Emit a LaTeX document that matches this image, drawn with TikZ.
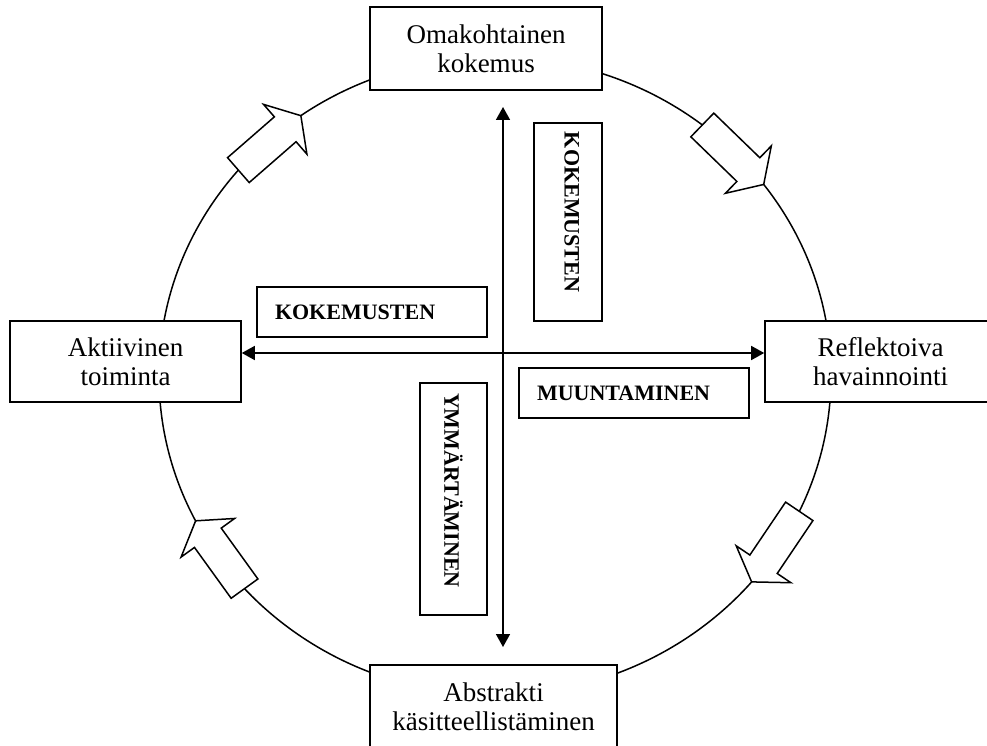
\documentclass[tikz,border=0pt]{standalone}
\usepackage{fontspec}
\setmainfont{Liberation Serif}
\usetikzlibrary{arrows.meta,calc}
\newcommand\blockarr[2]{%
  \coordinate (hb) at ($(#1)!0.75!(#2)$);
  \draw[blockarrow] ($(#1)!16.5pt!90:(#2)$) -- ($(hb)!16.5pt!90:(#2)$) -- ($(hb)!33pt!90:(#2)$) -- (#2)
    -- ($(hb)!33pt!-90:(#2)$) -- ($(hb)!16.5pt!-90:(#2)$) -- ($(#1)!16.5pt!-90:(#2)$) -- cycle;}
\begin{document}
\begin{tikzpicture}[x=1pt,y=-1pt,
  stagebox/.style={draw, line width=1.6pt, fill=white, align=center, inner sep=0pt,
    font=\fontsize{27}{29}\selectfont},
  labelbox/.style={draw, line width=1.6pt, fill=white, inner sep=0pt, align=left,
    font=\fontsize{22}{24}\selectfont\bfseries},
  cycleline/.style={line width=1.5pt},
  blockarrow/.style={draw, line width=1.5pt, fill=white, line join=miter},
  crossarrow/.style={line width=1.6pt, {Triangle[length=13pt,width=14pt]}-{Triangle[length=13pt,width=14pt]}}]
\useasboundingbox (0,0) rectangle (987,746);

% cycle
\draw[cycleline] (495,376) ellipse [x radius=336pt, y radius=319pt];

% stage boxes
\node[stagebox, minimum width=232pt, minimum height=83pt] (top) at (486,48.5) {Omakohtainen\\kokemus};
\node[stagebox, minimum width=231pt, minimum height=81pt] (left) at (125.5,361.5) {Aktiivinen\\toiminta};
\node[stagebox, minimum width=231pt, minimum height=81pt] (right) at (880.5,361.5) {Reflektoiva\\havainnointi};
\node[stagebox, minimum width=247pt, minimum height=84pt] (bottom) at (493.5,707) {Abstrakti\\käsitteellistäminen};

% block arrows on the cycle
\coordinate (a1s) at ({495+336*cos(-139.8)},{376+319*sin(-139.8)});
\coordinate (a1e) at ({495+336*cos(-125.3)},{376+319*sin(-125.3)});
\coordinate (a2s) at ({495+336*cos(-51.9)},{376+319*sin(-51.9)});
\coordinate (a2e) at ({495+336*cos(-36.9)},{376+319*sin(-36.9)});
\coordinate (a3s) at ({495+336*cos(25.1)},{376+319*sin(25.1)});
\coordinate (a3e) at ({495+336*cos(40.2)},{376+319*sin(40.2)});
\coordinate (a4s) at ({495+336*cos(138.2)},{376+319*sin(138.2)});
\coordinate (a4e) at ({495+336*cos(153)},{376+319*sin(153)});
\blockarr{a1s}{a1e}
\blockarr{a2s}{a2e}
\blockarr{a3s}{a3e}
\blockarr{a4s}{a4e}

% axes
\coordinate (vtop) at (503,107);
\coordinate (vbot) at (503,647);
\draw[crossarrow] (vbot) -- (vtop);
\draw[crossarrow] ([yshift=8.5pt]left.east) -- ([yshift=8.5pt]right.west);

% labels
\node[labelbox, minimum width=230pt, minimum height=50pt, text width=194pt] (hk) at (372,312) {KOKEMUSTEN};
\node[labelbox, minimum width=230pt, minimum height=50pt, text width=194pt] (mu) at (634,393) {MUUNTAMINEN};
\node[labelbox, rotate=-90, minimum width=198pt, minimum height=68pt, text width=180pt, text depth=8pt] (vk) at (568,222) {KOKEMUSTEN};
\node[labelbox, rotate=-90, minimum width=232pt, minimum height=67pt, text width=212pt] (ym) at (453.5,499) {YMMÄRTÄMINEN};
\end{tikzpicture}
\end{document}
